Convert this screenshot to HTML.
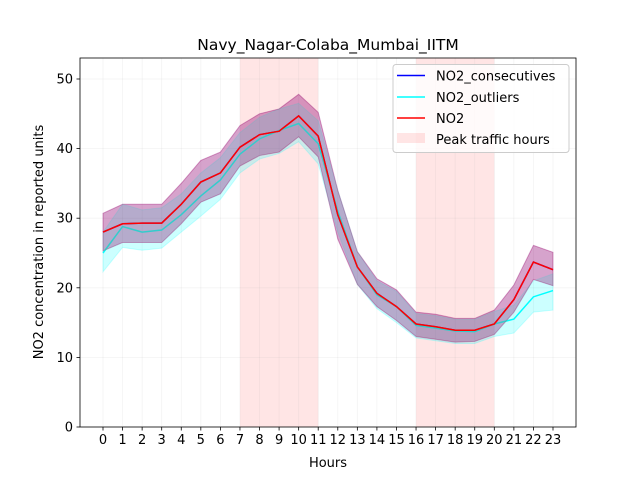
<!DOCTYPE html>
<html><head><meta charset="utf-8"><style>
body{margin:0;background:#fff}
svg{font-family:"DejaVu Sans","Liberation Sans",sans-serif}
</style></head><body>
<svg id="c" width="640" height="480" xmlns="http://www.w3.org/2000/svg"></svg>
<script>
const hours=[0,1,2,3,4,5,6,7,8,9,10,11,12,13,14,15,16,17,18,19,20,21,22,23];
const no2=[28,29.2,29.3,29.3,32,35.2,36.5,40.2,42,42.5,44.7,41.8,30.5,23,19.2,17.3,14.8,14.4,13.9,13.9,14.8,18.3,23.7,22.6];
const no2Upper=[30.7,32,32,32,35,38.3,39.5,43.3,45,45.7,47.8,45.2,34,25.2,21.3,19.7,16.5,16.2,15.6,15.6,16.8,20.4,26.1,25.1];
const no2Lower=[25.3,26.5,26.5,26.5,29.2,32.3,33.5,37.5,39,39.5,41.7,38.8,27,20.5,17.3,15.3,13,12.6,12.2,12.3,13.3,16.5,21.2,20.3];
const consec=[28,29.2,29.3,29.3,32,35.2,36.5,40.2,42,42.5,44.7,41.8,30.5,23,19.2,17.3,14.8,14.4,13.9,13.9,14.8,18.3,23.7,22.6];
const outl=[25,28.8,28,28.3,30.5,33.2,35.5,39.2,41.4,42.6,43.6,40.7,31,23,19,17.3,14.6,14.2,13.8,13.7,14.8,15.5,18.7,19.6];
const outlUpper=[28,32,31.2,31.5,33.5,36.5,38.7,42.3,44.5,45.7,46.5,44,34,25.2,21,19.5,16.3,16,15.5,15.5,16.6,17.5,21,22];
const outlLower=[22.3,25.8,25.4,25.7,28,30.3,32.7,36.5,38.5,39.3,41,37.8,28,20.5,17,15,12.8,12.4,12,12,13,13.5,16.5,16.8];
const yTicks=[0,10,20,30,40,50];
const peaks=[[7,11],[16,20]];
const NS="http://www.w3.org/2000/svg";
const svg=document.getElementById('c');
const X=h=>103+h*(450/23);
const Y=v=>427-v*6.96;
function el(t,a,p){const e=document.createElementNS(NS,t);for(const k in a)e.setAttribute(k,a[k]);(p||svg).appendChild(e);return e;}
// peaks
peaks.forEach(p=>{const r=el('rect',{x:X(p[0]),y:58,width:X(p[1])-X(p[0]),height:369,fill:'#ff0000','fill-opacity':0.1});

});
// grid
hours.forEach(h=>el('line',{x1:X(h),x2:X(h),y1:58,y2:427,stroke:'#b0b0b0','stroke-opacity':0.15,'stroke-width':0.8}));
yTicks.forEach(v=>el('line',{x1:80,x2:576,y1:Y(v),y2:Y(v),stroke:'#b0b0b0','stroke-opacity':0.15,'stroke-width':0.8}));
function band(up,lo,col,name){let d='M'+hours.map(h=>X(h)+','+Y(up[h])).join('L')+'L'+hours.slice().reverse().map(h=>X(h)+','+Y(lo[h])).join('L')+'Z';
const p=el('path',{d:d,fill:col,'fill-opacity':0.2,stroke:col,'stroke-opacity':0.2});

}
function line(v,col,name){const p=el('polyline',{points:hours.map(h=>X(h)+','+Y(v[h])).join(' '),fill:'none',stroke:col,'stroke-width':1.5});

}
band(no2Upper,no2Lower,'#0000ff','consecutives-band');
line(consec,'#0000ff','consecutives-line');
band(outlUpper,outlLower,'#00ffff','outliers-band');
line(outl,'#00ffff','outliers-line');
band(no2Upper,no2Lower,'#ff0000','no2-band');
line(no2,'#ff0000','no2-line');
// axes
el('rect',{x:80,y:58,width:496,height:369,fill:'none',stroke:'#000','stroke-width':0.8});
hours.forEach(h=>{el('line',{x1:X(h),x2:X(h),y1:427,y2:430.5,stroke:'#000','stroke-width':0.8});
const t=el('text',{x:X(h),y:444,'font-size':13,'text-anchor':'middle'});t.textContent=h;

});
yTicks.forEach(v=>{el('line',{x1:76.5,x2:80,y1:Y(v),y2:Y(v),stroke:'#000','stroke-width':0.8});
const t=el('text',{x:73,y:Y(v)+4.5,'font-size':13,'text-anchor':'end'});t.textContent=v;

});
</script>
<svg width="640" height="480" style="position:absolute;left:0;top:0" xmlns="http://www.w3.org/2000/svg">
<text x="328" y="50" font-size="15.5" text-anchor="middle">Navy_Nagar-Colaba_Mumbai_IITM</text>
<text x="328" y="467" font-size="13" text-anchor="middle">Hours</text>
<text transform="translate(43,242) rotate(-90)" font-size="13" text-anchor="middle">NO2 concentration in reported units</text>
<g>
<rect x="393" y="64.5" width="176" height="88" rx="3" fill="#fff" fill-opacity="0.8" stroke="#ccc"/>
<line x1="397" x2="425" y1="75.5" y2="75.5" stroke="#0000ff" stroke-width="1.5"/>
<text x="436" y="80.5" font-size="13">NO2_consecutives</text>
<line x1="397" x2="425" y1="97" y2="97" stroke="#00ffff" stroke-width="1.5"/>
<text x="436" y="102" font-size="13">NO2_outliers</text>
<line x1="397" x2="425" y1="118" y2="118" stroke="#ff0000" stroke-width="1.5"/>
<text x="436" y="123" font-size="13">NO2</text>
<rect x="397" y="133" width="28" height="10" fill="#ff0000" fill-opacity="0.1"/>
<text x="436" y="144" font-size="13">Peak traffic hours</text>
</g>
</svg>
</body></html>
